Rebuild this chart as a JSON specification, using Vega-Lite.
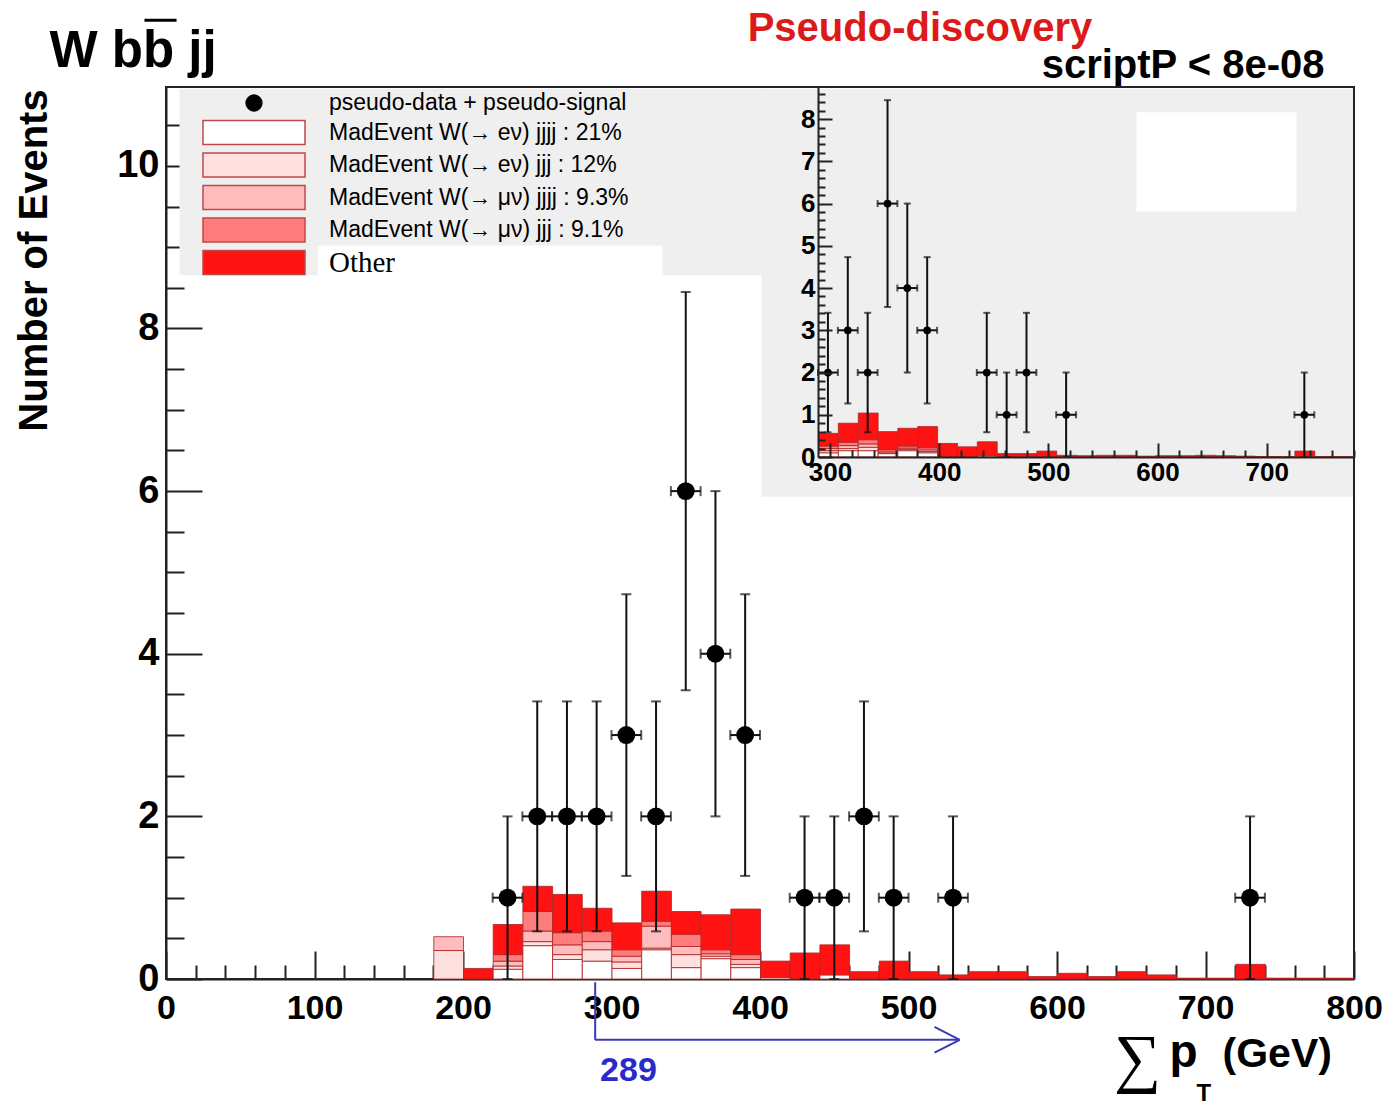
{
  "$schema": "https://vega.github.io/schema/vega-lite/v6.json",
  "width": 1188,
  "height": 892,
  "autosize": {"type": "none"},
  "padding": {"left": 166, "top": 87, "right": 38, "bottom": 127},
  "background": "white",
  "config": {
    "view": {"stroke": "#222222", "strokeWidth": 2},
    "axis": {"grid": false, "domainColor": "#222222", "domainWidth": 2, "tickColor": "#222222", "tickWidth": 2, "labelColor": "black", "labelFont": "Liberation Sans", "labelFontWeight": "bold", "labelFlush": false, "labelOverlap": false, "labelBound": false},
    "text": {"font": "Liberation Sans"}
  },
  "datasets": {
    "main_stack": [
      {"lo": 180, "hi": 200, "c": "MadEvent W(→ eν) jjj : 12%", "k": 2, "v": 0.35},
      {"lo": 180, "hi": 200, "c": "MadEvent W(→ μν) jjjj : 9.3%", "k": 3, "v": 0.17},
      {"lo": 200, "hi": 220, "c": "Other", "k": 5, "v": 0.13},
      {"lo": 220, "hi": 240, "c": "MadEvent W(→ eν) jjjj : 21%", "k": 1, "v": 0.12},
      {"lo": 220, "hi": 240, "c": "MadEvent W(→ eν) jjj : 12%", "k": 2, "v": 0.04},
      {"lo": 220, "hi": 240, "c": "MadEvent W(→ μν) jjjj : 9.3%", "k": 3, "v": 0.06},
      {"lo": 220, "hi": 240, "c": "MadEvent W(→ μν) jjj : 9.1%", "k": 4, "v": 0.08},
      {"lo": 220, "hi": 240, "c": "Other", "k": 5, "v": 0.37},
      {"lo": 240, "hi": 260, "c": "MadEvent W(→ eν) jjjj : 21%", "k": 1, "v": 0.41},
      {"lo": 240, "hi": 260, "c": "MadEvent W(→ eν) jjj : 12%", "k": 2, "v": 0.05},
      {"lo": 240, "hi": 260, "c": "MadEvent W(→ μν) jjjj : 9.3%", "k": 3, "v": 0.13},
      {"lo": 240, "hi": 260, "c": "MadEvent W(→ μν) jjj : 9.1%", "k": 4, "v": 0.24},
      {"lo": 240, "hi": 260, "c": "Other", "k": 5, "v": 0.31},
      {"lo": 260, "hi": 280, "c": "MadEvent W(→ eν) jjjj : 21%", "k": 1, "v": 0.24},
      {"lo": 260, "hi": 280, "c": "MadEvent W(→ eν) jjj : 12%", "k": 2, "v": 0.06},
      {"lo": 260, "hi": 280, "c": "MadEvent W(→ μν) jjjj : 9.3%", "k": 3, "v": 0.12},
      {"lo": 260, "hi": 280, "c": "MadEvent W(→ μν) jjj : 9.1%", "k": 4, "v": 0.15},
      {"lo": 260, "hi": 280, "c": "Other", "k": 5, "v": 0.47},
      {"lo": 280, "hi": 300, "c": "MadEvent W(→ eν) jjjj : 21%", "k": 1, "v": 0.22},
      {"lo": 280, "hi": 300, "c": "MadEvent W(→ eν) jjj : 12%", "k": 2, "v": 0.14},
      {"lo": 280, "hi": 300, "c": "MadEvent W(→ μν) jjjj : 9.3%", "k": 3, "v": 0.10},
      {"lo": 280, "hi": 300, "c": "MadEvent W(→ μν) jjj : 9.1%", "k": 4, "v": 0.13},
      {"lo": 280, "hi": 300, "c": "Other", "k": 5, "v": 0.28},
      {"lo": 300, "hi": 320, "c": "MadEvent W(→ eν) jjjj : 21%", "k": 1, "v": 0.13},
      {"lo": 300, "hi": 320, "c": "MadEvent W(→ eν) jjj : 12%", "k": 2, "v": 0.08},
      {"lo": 300, "hi": 320, "c": "MadEvent W(→ μν) jjjj : 9.3%", "k": 3, "v": 0.07},
      {"lo": 300, "hi": 320, "c": "MadEvent W(→ μν) jjj : 9.1%", "k": 4, "v": 0.08},
      {"lo": 300, "hi": 320, "c": "Other", "k": 5, "v": 0.33},
      {"lo": 320, "hi": 340, "c": "MadEvent W(→ eν) jjjj : 21%", "k": 1, "v": 0.36},
      {"lo": 320, "hi": 340, "c": "MadEvent W(→ eν) jjj : 12%", "k": 2, "v": 0.02},
      {"lo": 320, "hi": 340, "c": "MadEvent W(→ μν) jjjj : 9.3%", "k": 3, "v": 0.27},
      {"lo": 320, "hi": 340, "c": "MadEvent W(→ μν) jjj : 9.1%", "k": 4, "v": 0.06},
      {"lo": 320, "hi": 340, "c": "Other", "k": 5, "v": 0.37},
      {"lo": 340, "hi": 360, "c": "MadEvent W(→ eν) jjjj : 21%", "k": 1, "v": 0.14},
      {"lo": 340, "hi": 360, "c": "MadEvent W(→ eν) jjj : 12%", "k": 2, "v": 0.16},
      {"lo": 340, "hi": 360, "c": "MadEvent W(→ μν) jjjj : 9.3%", "k": 3, "v": 0.10},
      {"lo": 340, "hi": 360, "c": "MadEvent W(→ μν) jjj : 9.1%", "k": 4, "v": 0.15},
      {"lo": 340, "hi": 360, "c": "Other", "k": 5, "v": 0.28},
      {"lo": 360, "hi": 380, "c": "MadEvent W(→ eν) jjjj : 21%", "k": 1, "v": 0.25},
      {"lo": 360, "hi": 380, "c": "MadEvent W(→ eν) jjj : 12%", "k": 2, "v": 0.03},
      {"lo": 360, "hi": 380, "c": "MadEvent W(→ μν) jjjj : 9.3%", "k": 3, "v": 0.03},
      {"lo": 360, "hi": 380, "c": "MadEvent W(→ μν) jjj : 9.1%", "k": 4, "v": 0.05},
      {"lo": 360, "hi": 380, "c": "Other", "k": 5, "v": 0.43},
      {"lo": 380, "hi": 400, "c": "MadEvent W(→ eν) jjjj : 21%", "k": 1, "v": 0.14},
      {"lo": 380, "hi": 400, "c": "MadEvent W(→ eν) jjj : 12%", "k": 2, "v": 0.04},
      {"lo": 380, "hi": 400, "c": "MadEvent W(→ μν) jjjj : 9.3%", "k": 3, "v": 0.06},
      {"lo": 380, "hi": 400, "c": "MadEvent W(→ μν) jjj : 9.1%", "k": 4, "v": 0.06},
      {"lo": 380, "hi": 400, "c": "Other", "k": 5, "v": 0.56},
      {"lo": 400, "hi": 420, "c": "MadEvent W(→ eν) jjjj : 21%", "k": 1, "v": 0.02},
      {"lo": 400, "hi": 420, "c": "Other", "k": 5, "v": 0.20},
      {"lo": 420, "hi": 440, "c": "Other", "k": 5, "v": 0.32},
      {"lo": 440, "hi": 460, "c": "MadEvent W(→ eν) jjjj : 21%", "k": 1, "v": 0.05},
      {"lo": 440, "hi": 460, "c": "Other", "k": 5, "v": 0.37},
      {"lo": 460, "hi": 480, "c": "Other", "k": 5, "v": 0.09},
      {"lo": 480, "hi": 500, "c": "Other", "k": 5, "v": 0.22},
      {"lo": 500, "hi": 520, "c": "Other", "k": 5, "v": 0.09},
      {"lo": 520, "hi": 540, "c": "Other", "k": 5, "v": 0.05},
      {"lo": 540, "hi": 560, "c": "Other", "k": 5, "v": 0.09},
      {"lo": 560, "hi": 580, "c": "Other", "k": 5, "v": 0.09},
      {"lo": 580, "hi": 600, "c": "Other", "k": 5, "v": 0.03},
      {"lo": 600, "hi": 620, "c": "Other", "k": 5, "v": 0.07},
      {"lo": 620, "hi": 640, "c": "Other", "k": 5, "v": 0.03},
      {"lo": 640, "hi": 660, "c": "Other", "k": 5, "v": 0.09},
      {"lo": 660, "hi": 680, "c": "Other", "k": 5, "v": 0.05},
      {"lo": 680, "hi": 700, "c": "Other", "k": 5, "v": 0.01},
      {"lo": 700, "hi": 720, "c": "Other", "k": 5, "v": 0.01},
      {"lo": 720, "hi": 740, "c": "Other", "k": 5, "v": 0.18},
      {"lo": 740, "hi": 760, "c": "Other", "k": 5, "v": 0.01},
      {"lo": 760, "hi": 780, "c": "Other", "k": 5, "v": 0.01},
      {"lo": 780, "hi": 800, "c": "Other", "k": 5, "v": 0.01}
    ],
    "main_pts": [
      {"x": 230, "n": 1, "lo": 0, "hi": 2, "xlo": 220, "xhi": 240, "s": "pseudo-data + pseudo-signal"},
      {"x": 250, "n": 2, "lo": 0.586, "hi": 3.414, "xlo": 240, "xhi": 260, "s": "pseudo-data + pseudo-signal"},
      {"x": 270, "n": 2, "lo": 0.586, "hi": 3.414, "xlo": 260, "xhi": 280, "s": "pseudo-data + pseudo-signal"},
      {"x": 290, "n": 2, "lo": 0.586, "hi": 3.414, "xlo": 280, "xhi": 300, "s": "pseudo-data + pseudo-signal"},
      {"x": 310, "n": 3, "lo": 1.268, "hi": 4.732, "xlo": 300, "xhi": 320, "s": "pseudo-data + pseudo-signal"},
      {"x": 330, "n": 2, "lo": 0.586, "hi": 3.414, "xlo": 320, "xhi": 340, "s": "pseudo-data + pseudo-signal"},
      {"x": 350, "n": 6, "lo": 3.551, "hi": 8.449, "xlo": 340, "xhi": 360, "s": "pseudo-data + pseudo-signal"},
      {"x": 370, "n": 4, "lo": 2, "hi": 6, "xlo": 360, "xhi": 380, "s": "pseudo-data + pseudo-signal"},
      {"x": 390, "n": 3, "lo": 1.268, "hi": 4.732, "xlo": 380, "xhi": 400, "s": "pseudo-data + pseudo-signal"},
      {"x": 430, "n": 1, "lo": 0, "hi": 2, "xlo": 420, "xhi": 440, "s": "pseudo-data + pseudo-signal"},
      {"x": 450, "n": 1, "lo": 0, "hi": 2, "xlo": 440, "xhi": 460, "s": "pseudo-data + pseudo-signal"},
      {"x": 470, "n": 2, "lo": 0.586, "hi": 3.414, "xlo": 460, "xhi": 480, "s": "pseudo-data + pseudo-signal"},
      {"x": 490, "n": 1, "lo": 0, "hi": 2, "xlo": 480, "xhi": 500, "s": "pseudo-data + pseudo-signal"},
      {"x": 530, "n": 1, "lo": 0, "hi": 2, "xlo": 520, "xhi": 540, "s": "pseudo-data + pseudo-signal"},
      {"x": 730, "n": 1, "lo": 0, "hi": 2, "xlo": 720, "xhi": 740, "s": "pseudo-data + pseudo-signal"}
    ],
    "inset_stack": [
      {"lo": 289, "hi": 307.2, "c": "MadEvent W(→ eν) jjjj : 21%", "k": 1, "v": 0.10},
      {"lo": 289, "hi": 307.2, "c": "MadEvent W(→ eν) jjj : 12%", "k": 2, "v": 0.05},
      {"lo": 289, "hi": 307.2, "c": "MadEvent W(→ μν) jjjj : 9.3%", "k": 3, "v": 0.05},
      {"lo": 289, "hi": 307.2, "c": "MadEvent W(→ μν) jjj : 9.1%", "k": 4, "v": 0.06},
      {"lo": 289, "hi": 307.2, "c": "Other", "k": 5, "v": 0.30},
      {"lo": 307.2, "hi": 325.4, "c": "MadEvent W(→ eν) jjjj : 21%", "k": 1, "v": 0.15},
      {"lo": 307.2, "hi": 325.4, "c": "MadEvent W(→ eν) jjj : 12%", "k": 2, "v": 0.05},
      {"lo": 307.2, "hi": 325.4, "c": "MadEvent W(→ μν) jjjj : 9.3%", "k": 3, "v": 0.07},
      {"lo": 307.2, "hi": 325.4, "c": "MadEvent W(→ μν) jjj : 9.1%", "k": 4, "v": 0.08},
      {"lo": 307.2, "hi": 325.4, "c": "Other", "k": 5, "v": 0.45},
      {"lo": 325.4, "hi": 343.6, "c": "MadEvent W(→ eν) jjjj : 21%", "k": 1, "v": 0.15},
      {"lo": 325.4, "hi": 343.6, "c": "MadEvent W(→ eν) jjj : 12%", "k": 2, "v": 0.08},
      {"lo": 325.4, "hi": 343.6, "c": "MadEvent W(→ μν) jjjj : 9.3%", "k": 3, "v": 0.08},
      {"lo": 325.4, "hi": 343.6, "c": "MadEvent W(→ μν) jjj : 9.1%", "k": 4, "v": 0.10},
      {"lo": 325.4, "hi": 343.6, "c": "Other", "k": 5, "v": 0.63},
      {"lo": 343.6, "hi": 361.7, "c": "MadEvent W(→ eν) jjjj : 21%", "k": 1, "v": 0.08},
      {"lo": 343.6, "hi": 361.7, "c": "MadEvent W(→ eν) jjj : 12%", "k": 2, "v": 0.02},
      {"lo": 343.6, "hi": 361.7, "c": "MadEvent W(→ μν) jjjj : 9.3%", "k": 3, "v": 0.04},
      {"lo": 343.6, "hi": 361.7, "c": "MadEvent W(→ μν) jjj : 9.1%", "k": 4, "v": 0.04},
      {"lo": 343.6, "hi": 361.7, "c": "Other", "k": 5, "v": 0.42},
      {"lo": 361.7, "hi": 379.9, "c": "MadEvent W(→ eν) jjjj : 21%", "k": 1, "v": 0.15},
      {"lo": 361.7, "hi": 379.9, "c": "MadEvent W(→ eν) jjj : 12%", "k": 2, "v": 0.03},
      {"lo": 361.7, "hi": 379.9, "c": "MadEvent W(→ μν) jjjj : 9.3%", "k": 3, "v": 0.03},
      {"lo": 361.7, "hi": 379.9, "c": "MadEvent W(→ μν) jjj : 9.1%", "k": 4, "v": 0.05},
      {"lo": 361.7, "hi": 379.9, "c": "Other", "k": 5, "v": 0.42},
      {"lo": 379.9, "hi": 398.1, "c": "MadEvent W(→ eν) jjjj : 21%", "k": 1, "v": 0.10},
      {"lo": 379.9, "hi": 398.1, "c": "MadEvent W(→ eν) jjj : 12%", "k": 2, "v": 0.03},
      {"lo": 379.9, "hi": 398.1, "c": "MadEvent W(→ μν) jjjj : 9.3%", "k": 3, "v": 0.04},
      {"lo": 379.9, "hi": 398.1, "c": "MadEvent W(→ μν) jjj : 9.1%", "k": 4, "v": 0.05},
      {"lo": 379.9, "hi": 398.1, "c": "Other", "k": 5, "v": 0.50},
      {"lo": 398.1, "hi": 416.3, "c": "Other", "k": 5, "v": 0.32},
      {"lo": 416.3, "hi": 434.5, "c": "Other", "k": 5, "v": 0.24},
      {"lo": 434.5, "hi": 452.7, "c": "MadEvent W(→ eν) jjjj : 21%", "k": 1, "v": 0.03},
      {"lo": 434.5, "hi": 452.7, "c": "Other", "k": 5, "v": 0.33},
      {"lo": 452.7, "hi": 470.9, "c": "Other", "k": 5, "v": 0.08},
      {"lo": 470.9, "hi": 489.0, "c": "Other", "k": 5, "v": 0.08},
      {"lo": 489.0, "hi": 507.2, "c": "Other", "k": 5, "v": 0.14},
      {"lo": 507.2, "hi": 525.4, "c": "Other", "k": 5, "v": 0.04},
      {"lo": 525.4, "hi": 543.6, "c": "Other", "k": 5, "v": 0.03},
      {"lo": 543.6, "hi": 561.8, "c": "Other", "k": 5, "v": 0.04},
      {"lo": 561.8, "hi": 580.0, "c": "Other", "k": 5, "v": 0.04},
      {"lo": 580.0, "hi": 598.1, "c": "Other", "k": 5, "v": 0.02},
      {"lo": 598.1, "hi": 616.3, "c": "Other", "k": 5, "v": 0.03},
      {"lo": 616.3, "hi": 634.5, "c": "Other", "k": 5, "v": 0.03},
      {"lo": 634.5, "hi": 652.7, "c": "Other", "k": 5, "v": 0.04},
      {"lo": 652.7, "hi": 670.9, "c": "Other", "k": 5, "v": 0.03},
      {"lo": 670.9, "hi": 689.1, "c": "Other", "k": 5, "v": 0.02},
      {"lo": 689.1, "hi": 707.3, "c": "Other", "k": 5, "v": 0.01},
      {"lo": 707.3, "hi": 725.4, "c": "Other", "k": 5, "v": 0.01},
      {"lo": 725.4, "hi": 743.6, "c": "Other", "k": 5, "v": 0.14},
      {"lo": 743.6, "hi": 761.8, "c": "Other", "k": 5, "v": 0.01},
      {"lo": 761.8, "hi": 780.0, "c": "Other", "k": 5, "v": 0.01}
    ],
    "inset_pts": [
      {"x": 298.1, "n": 2, "lo": 0.586, "hi": 3.414, "xlo": 289.0, "xhi": 307.2, "s": "pseudo-data + pseudo-signal"},
      {"x": 316.3, "n": 3, "lo": 1.268, "hi": 4.732, "xlo": 307.2, "xhi": 325.4, "s": "pseudo-data + pseudo-signal"},
      {"x": 334.5, "n": 2, "lo": 0.586, "hi": 3.414, "xlo": 325.4, "xhi": 343.6, "s": "pseudo-data + pseudo-signal"},
      {"x": 352.7, "n": 6, "lo": 3.551, "hi": 8.449, "xlo": 343.6, "xhi": 361.7, "s": "pseudo-data + pseudo-signal"},
      {"x": 370.8, "n": 4, "lo": 2, "hi": 6, "xlo": 361.7, "xhi": 379.9, "s": "pseudo-data + pseudo-signal"},
      {"x": 389.0, "n": 3, "lo": 1.268, "hi": 4.732, "xlo": 379.9, "xhi": 398.1, "s": "pseudo-data + pseudo-signal"},
      {"x": 443.6, "n": 2, "lo": 0.586, "hi": 3.414, "xlo": 434.5, "xhi": 452.7, "s": "pseudo-data + pseudo-signal"},
      {"x": 461.8, "n": 1, "lo": 0, "hi": 2, "xlo": 452.7, "xhi": 470.9, "s": "pseudo-data + pseudo-signal"},
      {"x": 480.0, "n": 2, "lo": 0.586, "hi": 3.414, "xlo": 470.9, "xhi": 489.0, "s": "pseudo-data + pseudo-signal"},
      {"x": 516.3, "n": 1, "lo": 0, "hi": 2, "xlo": 507.2, "xhi": 525.4, "s": "pseudo-data + pseudo-signal"},
      {"x": 734.5, "n": 1, "lo": 0, "hi": 2, "xlo": 725.4, "xhi": 743.6, "s": "pseudo-data + pseudo-signal"}
    ]
  },
  "layer": [
    {
      "layer": [
        {
          "data": {"values": [{}]},
          "mark": {"type": "rect", "fill": "#efefef"},
          "encoding": {
            "x": {"datum": 9.1, "type": "quantitative"},
            "x2": {"datum": 401},
            "y": {"datum": 8.655, "type": "quantitative"},
            "y2": {"datum": 10.95}
          }
        },
        {
          "data": {"values": [{}]},
          "mark": {"type": "rect", "fill": "#efefef"},
          "encoding": {
            "x": {"datum": 401, "type": "quantitative"},
            "x2": {"datum": 799.3},
            "y": {"datum": 5.93, "type": "quantitative"},
            "y2": {"datum": 10.95}
          }
        },
        {
          "data": {"values": [{}]},
          "mark": {"type": "rect", "fill": "white"},
          "encoding": {
            "x": {"datum": 653.5, "type": "quantitative"},
            "x2": {"datum": 761.3},
            "y": {"datum": 9.44, "type": "quantitative"},
            "y2": {"datum": 10.66}
          }
        },
        {
          "data": {"values": [{}]},
          "mark": {"type": "rect", "fill": "white"},
          "encoding": {
            "x": {"datum": 102.2, "type": "quantitative"},
            "x2": {"datum": 334.3},
            "y": {"datum": 8.655, "type": "quantitative"},
            "y2": {"datum": 9.02}
          }
        },
        {
          "data": {"name": "main_stack"},
          "mark": {"type": "bar", "binSpacing": 0, "stroke": "#b02828", "strokeWidth": 1, "strokeOpacity": 0.85},
          "encoding": {
            "x": {"field": "lo", "type": "quantitative", "bin": "binned", "title": null},
            "x2": {"field": "hi"},
            "y": {"field": "v", "type": "quantitative", "stack": "zero", "title": "Number of Events"},
            "order": {"field": "k", "type": "quantitative"},
            "fill": {"field": "c", "type": "nominal",
              "scale": {"domain": ["pseudo-data + pseudo-signal", "MadEvent W(→ eν) jjjj : 21%", "MadEvent W(→ eν) jjj : 12%", "MadEvent W(→ μν) jjjj : 9.3%", "MadEvent W(→ μν) jjj : 9.1%", "Other"],
                        "range": ["#000000", "#ffffff", "#ffe0e0", "#ffbcbc", "#ff7c7c", "#ff1212"]}}
          }
        },
        {
          "data": {"name": "main_pts"},
          "mark": {"type": "errorbar", "ticks": {"size": 10, "thickness": 2, "color": "#111111"}, "rule": {"strokeWidth": 2, "color": "#111111"}},
          "encoding": {
            "x": {"field": "x", "type": "quantitative", "title": null},
            "y": {"field": "lo", "type": "quantitative", "title": "Number of Events"},
            "y2": {"field": "hi"}
          }
        },
        {
          "data": {"name": "main_pts"},
          "mark": {"type": "errorbar", "ticks": {"size": 10, "thickness": 2, "color": "#111111"}, "rule": {"strokeWidth": 2, "color": "#111111"}},
          "encoding": {
            "x": {"field": "xlo", "type": "quantitative", "title": null},
            "x2": {"field": "xhi"},
            "y": {"field": "n", "type": "quantitative", "title": "Number of Events"}
          }
        },
        {
          "data": {"name": "main_pts"},
          "mark": {"type": "point", "shape": "circle", "filled": true, "size": 320, "opacity": 1},
          "encoding": {
            "x": {"field": "x", "type": "quantitative",
              "scale": {"domain": [0, 800], "nice": false, "zero": false},
              "axis": {"title": null, "orient": "bottom", "zindex": 0, "format": "d", "labelOverlap": false, "tickCount": 500, "tickMinStep": 0.01,
                "values": [0,20,40,60,80,100,120,140,160,180,200,220,240,260,280,300,320,340,360,380,400,420,440,460,480,500,520,540,560,580,600,620,640,660,680,700,720,740,760,780,800],
                "labelExpr": "datum.value % 100 === 0 ? datum.label : ''",
                "tickSize": {"condition": {"test": "datum.value % 100 === 0", "value": -28}, "value": -14},
                "labelPadding": 40, "labelFontSize": 34}},
            "y": {"field": "n", "type": "quantitative",
              "scale": {"domain": [0, 10.97], "nice": false, "zero": false},
              "axis": {"orient": "left", "zindex": 0, "format": "d", "labelOverlap": false, "tickCount": 500, "tickMinStep": 0.01,
                "values": [0,0.5,1,1.5,2,2.5,3,3.5,4,4.5,5,5.5,6,6.5,7,7.5,8,8.5,9,9.5,10,10.5],
                "labelExpr": "datum.value % 2 === 0 ? datum.label : ''",
                "tickSize": {"condition": {"test": "datum.value % 2 === 0", "value": -36}, "value": -18},
                "labelPadding": 43, "labelFontSize": 38,
                "title": "Number of Events", "titleFont": "Liberation Sans", "titleFontSize": 40, "titleFontWeight": "bold", "titleColor": "black",
                "titleAngle": 270, "titleX": -119.5, "titleY": 173, "titleAlign": "center", "titleBaseline": "alphabetic"}},
            "fill": {"field": "s", "type": "nominal",
              "scale": {"domain": ["pseudo-data + pseudo-signal", "MadEvent W(→ eν) jjjj : 21%", "MadEvent W(→ eν) jjj : 12%", "MadEvent W(→ μν) jjjj : 9.3%", "MadEvent W(→ μν) jjj : 9.1%", "Other"],
                        "range": ["#000000", "#ffffff", "#ffe0e0", "#ffbcbc", "#ff7c7c", "#ff1212"]},
              "legend": {"orient": "none", "legendX": 75, "legendY": 3, "title": null, "direction": "vertical", "padding": 0,
                "symbolType": "M-4.25,-1H4.25V1H-4.25Z", "symbolSize": 576, "symbolStrokeWidth": 1.5, "symbolStrokeColor": "#c04848", "symbolOpacity": 1,
                "labelFont": "Liberation Sans", "labelFontSize": 23, "labelColor": "black", "labelLimit": 0, "labelOffset": 62, "rowPadding": 2.5,
                "encode": {
                  "symbols": {"update": {
                    "shape": {"signal": "datum.value === 'pseudo-data + pseudo-signal' ? 'circle' : 'M-4.25,-1H4.25V1H-4.25Z'"},
                    "size": {"signal": "datum.value === 'pseudo-data + pseudo-signal' ? 250 : 576"},
                    "stroke": {"signal": "datum.value === 'pseudo-data + pseudo-signal' ? 'black' : '#c04848'"},
                    "strokeWidth": {"value": 1.5},
                    "opacity": {"value": 1}}},
                  "labels": {"update": {
                    "font": {"signal": "datum.value === 'Other' ? 'Liberation Serif' : 'Liberation Sans'"},
                    "fontSize": {"signal": "datum.value === 'Other' ? 29 : 23"}}}
                }}}
          }
        },
        {
          "data": {"values": [{}]},
          "mark": {"type": "text", "text": "W bb jj", "align": "left", "baseline": "alphabetic", "fontSize": 51, "fontWeight": "bold", "color": "black"},
          "encoding": {"x": {"datum": -78.5, "type": "quantitative"}, "y": {"datum": 11.22, "type": "quantitative"}}
        },
        {
          "data": {"values": [{}]},
          "mark": {"type": "rule", "strokeWidth": 3, "color": "black"},
          "encoding": {"x": {"datum": -14.5, "type": "quantitative"}, "x2": {"datum": 7.1}, "y": {"datum": 11.79, "type": "quantitative"}}
        },
        {
          "data": {"values": [{}]},
          "mark": {"type": "text", "text": "Pseudo-discovery", "align": "left", "baseline": "alphabetic", "fontSize": 40, "fontWeight": "bold", "color": "#dd1a1a"},
          "encoding": {"x": {"datum": 391.7, "type": "quantitative"}, "y": {"datum": 11.53, "type": "quantitative"}}
        },
        {
          "data": {"values": [{}]},
          "mark": {"type": "text", "text": "scriptP < 8e-08", "align": "right", "baseline": "alphabetic", "fontSize": 40, "fontWeight": "bold", "color": "black"},
          "encoding": {"x": {"datum": 780.1, "type": "quantitative"}, "y": {"datum": 11.08, "type": "quantitative"}}
        },
        {
          "data": {"values": [{}]},
          "mark": {"type": "text", "text": "289", "align": "center", "baseline": "middle", "fontSize": 34, "fontWeight": "bold", "color": "#2a2acc"},
          "encoding": {"x": {"datum": 311.4, "type": "quantitative"}, "y": {"datum": -1.13, "type": "quantitative"}}
        },
        {
          "data": {"values": [{}]},
          "mark": {"type": "rule", "strokeWidth": 2, "color": "#3a3ab8"},
          "encoding": {"x": {"datum": 289, "type": "quantitative"}, "y": {"datum": -0.04, "type": "quantitative"}, "y2": {"datum": -0.748}}
        },
        {
          "data": {"values": [{}]},
          "mark": {"type": "rule", "strokeWidth": 2, "color": "#3a3ab8"},
          "encoding": {"x": {"datum": 289, "type": "quantitative"}, "x2": {"datum": 534.5}, "y": {"datum": -0.748, "type": "quantitative"}}
        },
        {
          "data": {"values": [{}]},
          "mark": {"type": "rule", "strokeWidth": 2, "color": "#3a3ab8"},
          "encoding": {"x": {"datum": 517.5, "type": "quantitative"}, "x2": {"datum": 534.5}, "y": {"datum": -0.59, "type": "quantitative"}, "y2": {"datum": -0.748}}
        },
        {
          "data": {"values": [{}]},
          "mark": {"type": "rule", "strokeWidth": 2, "color": "#3a3ab8"},
          "encoding": {"x": {"datum": 517.5, "type": "quantitative"}, "x2": {"datum": 534.5}, "y": {"datum": -0.906, "type": "quantitative"}, "y2": {"datum": -0.748}}
        },
        {
          "data": {"values": [{}]},
          "mark": {"type": "text", "text": "∑", "align": "center", "baseline": "alphabetic", "fontSize": 66, "font": "Liberation Serif", "color": "black"},
          "encoding": {"x": {"datum": 654.2, "type": "quantitative"}, "y": {"datum": -1.24, "type": "quantitative"}}
        },
        {
          "data": {"values": [{}]},
          "mark": {"type": "text", "text": "p", "align": "left", "baseline": "alphabetic", "fontSize": 46, "fontWeight": "bold", "color": "black"},
          "encoding": {"x": {"datum": 675.7, "type": "quantitative"}, "y": {"datum": -1.08, "type": "quantitative"}}
        },
        {
          "data": {"values": [{}]},
          "mark": {"type": "text", "text": "T", "align": "center", "baseline": "alphabetic", "fontSize": 24, "fontWeight": "bold", "color": "black"},
          "encoding": {"x": {"datum": 698.9, "type": "quantitative"}, "y": {"datum": -1.5, "type": "quantitative"}}
        },
        {
          "data": {"values": [{}]},
          "mark": {"type": "text", "text": "(GeV)", "align": "left", "baseline": "alphabetic", "fontSize": 41, "fontWeight": "bold", "color": "black"},
          "encoding": {"x": {"datum": 711.5, "type": "quantitative"}, "y": {"datum": -1.08, "type": "quantitative"}}
        }
      ]
    },
    {
      "layer": [
        {
          "data": {"name": "inset_stack"},
          "mark": {"type": "bar", "binSpacing": 0, "stroke": "#b02828", "strokeWidth": 1, "strokeOpacity": 0.85},
          "encoding": {
            "x": {"field": "lo", "type": "quantitative", "bin": "binned", "title": null},
            "x2": {"field": "hi"},
            "y": {"field": "v", "type": "quantitative", "stack": "zero", "title": null},
            "order": {"field": "k", "type": "quantitative"},
            "fill": {"field": "c", "type": "nominal",
              "scale": {"domain": ["pseudo-data + pseudo-signal", "MadEvent W(→ eν) jjjj : 21%", "MadEvent W(→ eν) jjj : 12%", "MadEvent W(→ μν) jjjj : 9.3%", "MadEvent W(→ μν) jjj : 9.1%", "Other"],
                        "range": ["#000000", "#ffffff", "#ffe0e0", "#ffbcbc", "#ff7c7c", "#ff1212"]}}
          }
        },
        {
          "data": {"name": "inset_pts"},
          "mark": {"type": "errorbar", "ticks": {"size": 7, "thickness": 2, "color": "#111111"}, "rule": {"strokeWidth": 2, "color": "#111111"}},
          "encoding": {
            "x": {"field": "x", "type": "quantitative", "title": null},
            "y": {"field": "lo", "type": "quantitative", "title": null},
            "y2": {"field": "hi"}
          }
        },
        {
          "data": {"name": "inset_pts"},
          "mark": {"type": "errorbar", "ticks": {"size": 7, "thickness": 2, "color": "#111111"}, "rule": {"strokeWidth": 2, "color": "#111111"}},
          "encoding": {
            "x": {"field": "xlo", "type": "quantitative", "title": null},
            "x2": {"field": "xhi"},
            "y": {"field": "n", "type": "quantitative", "title": null}
          }
        },
        {
          "data": {"name": "inset_pts"},
          "mark": {"type": "point", "shape": "circle", "filled": true, "size": 60, "opacity": 1, "fill": "black"},
          "encoding": {
            "x": {"field": "x", "type": "quantitative",
              "scale": {"domain": [289, 780], "range": [652, 1188], "nice": false, "zero": false},
              "axis": {"title": null, "orient": "bottom", "offset": -522, "zindex": 1, "format": "d", "labelOverlap": false, "tickCount": 500, "tickMinStep": 0.01,
                "values": [300,320,340,360,380,400,420,440,460,480,500,520,540,560,580,600,620,640,660,680,700,720,740,760,780],
                "labelExpr": "datum.value % 100 === 0 ? datum.label : ''",
                "tickSize": {"condition": {"test": "datum.value % 100 === 0", "value": -14}, "value": -7},
                "labelPadding": 16, "labelFontSize": 26}},
            "y": {"field": "n", "type": "quantitative",
              "scale": {"domain": [0, 8.76], "range": [370, 0], "nice": false, "zero": false},
              "axis": {"title": null, "orient": "left", "offset": -652, "zindex": 1, "format": "d", "labelOverlap": false, "tickCount": 500, "tickMinStep": 0.01,
                "values": [0,0.2,0.4,0.6,0.8,1,1.2,1.4,1.6,1.8,2,2.2,2.4,2.6,2.8,3,3.2,3.4,3.6,3.8,4,4.2,4.4,4.6,4.8,5,5.2,5.4,5.6,5.8,6,6.2,6.4,6.6,6.8,7,7.2,7.4,7.6,7.8,8,8.2,8.4,8.6],
                "labelExpr": "datum.value % 1 === 0 ? datum.label : ''",
                "tickSize": {"condition": {"test": "datum.value % 1 === 0", "value": -14}, "value": -7},
                "labelPadding": 17, "labelFontSize": 26}}
          }
        }
      ]
    }
  ],
  "resolve": {"scale": {"x": "independent", "y": "independent"}}
}
